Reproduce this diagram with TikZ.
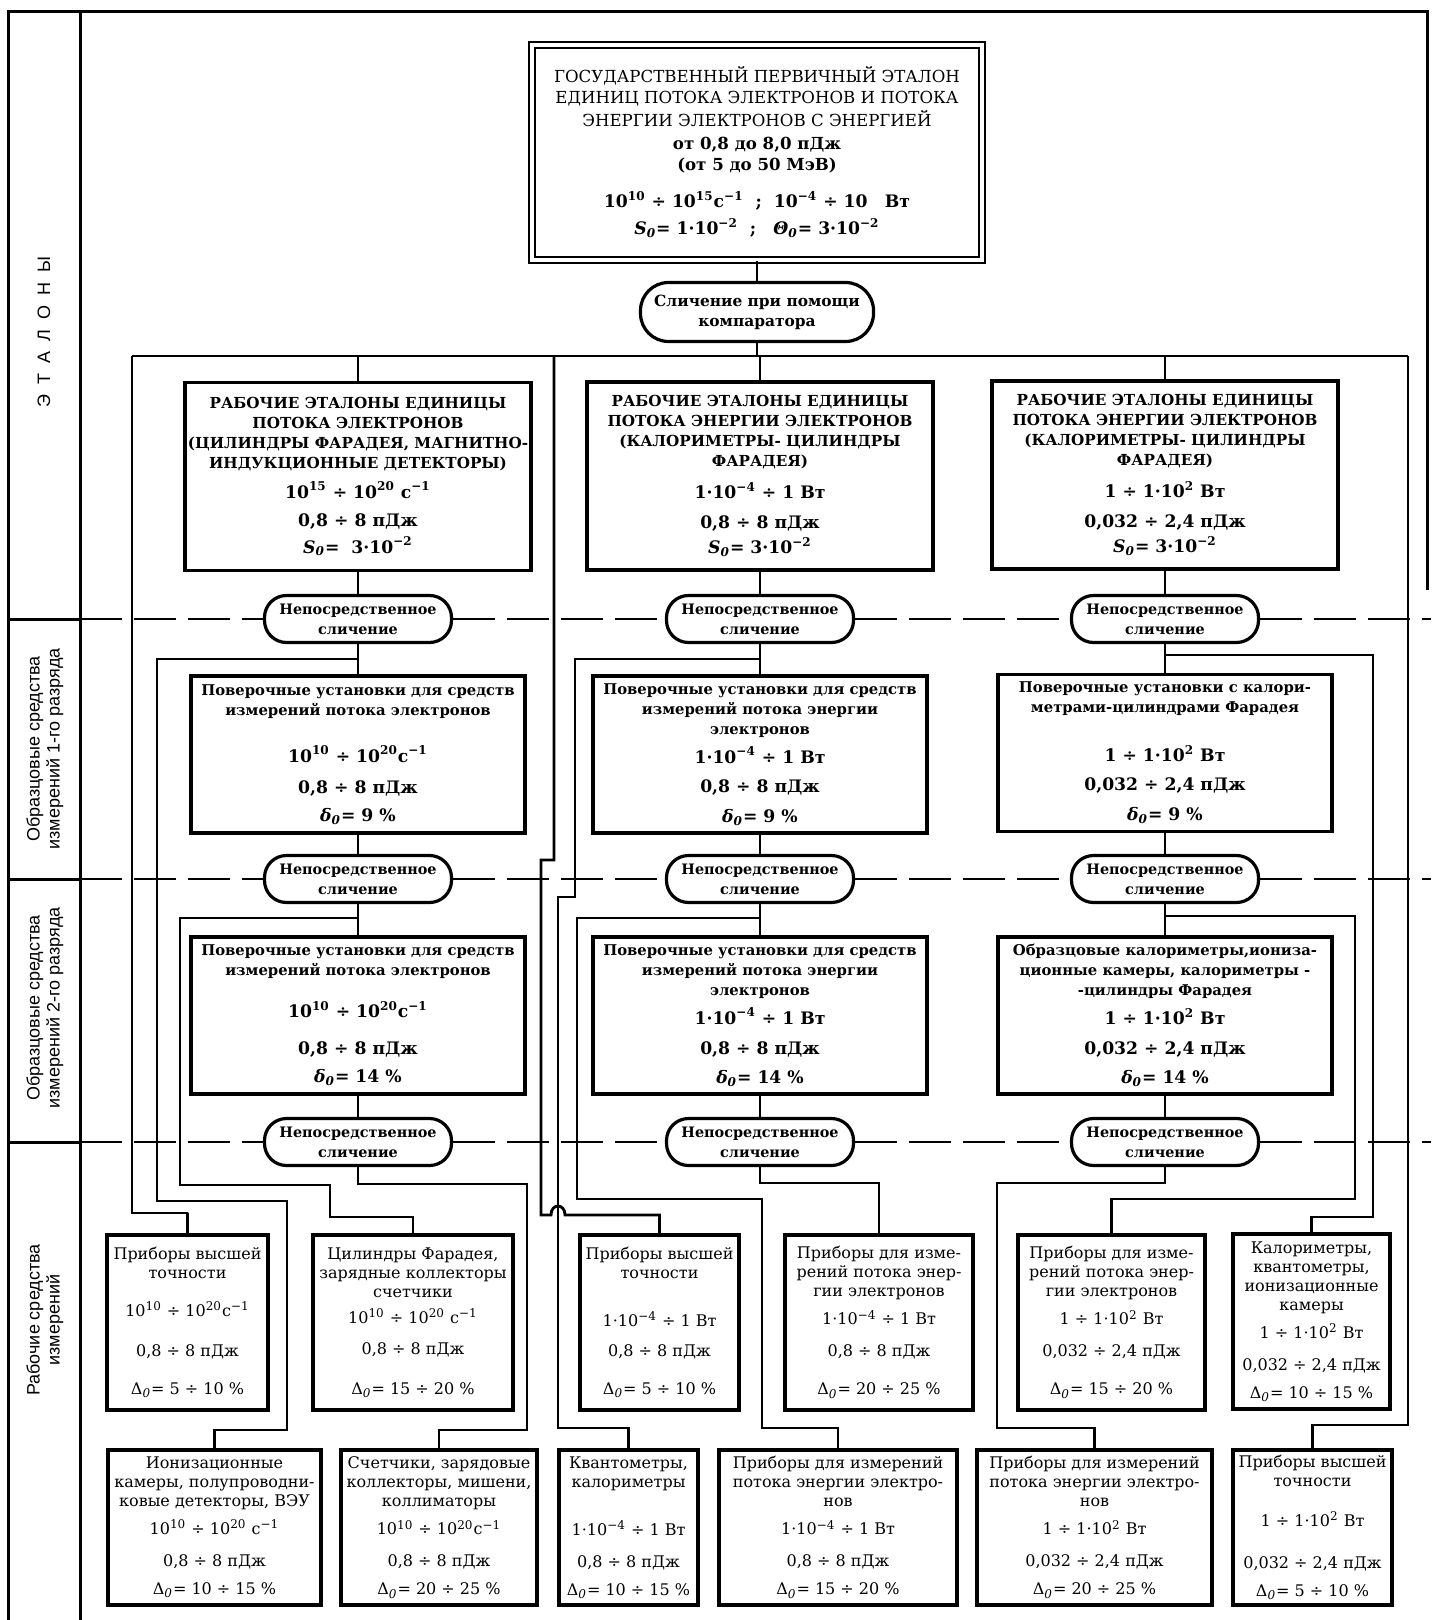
\documentclass[tikz,border=0pt]{standalone}
\usepackage{fontspec}
\setmainfont{DejaVu Serif}
\setsansfont{Liberation Sans}
\newcommand{\pw}[1]{\textsuperscript{#1}}
\newcommand{\dlo}{\textit{δ}\textsubscript{\textit{0}}}
\newcommand{\Dlo}{Δ\textsubscript{\textit{0}}}
\newcommand{\Sno}{\textit{S}\textsubscript{\textit{0}}}
\newcommand{\Tho}{\textit{Θ}\textsubscript{\textit{0}}}
\newcommand{\nfs}{\fontsize{8.6}{10}\selectfont}

\begin{document}
\begin{tikzpicture}[x=0.5pt,y=-0.5pt,
    frame/.style={line width=1.5pt},
    conn/.style={line width=1.4pt},
    rankline/.style={line width=1.1pt, dash pattern=on 21pt off 6pt},
    box/.style={draw, line width=1.8pt, fill=white, align=center, inner sep=1pt},
    gpebox/.style={box, double, line width=1.2pt, double distance=1.6pt,
      minimum width=225pt, minimum height=107.5pt, font=\fontsize{8.3}{10.5}\selectfont},
    etbox/.style={box, minimum width=173pt, minimum height=94pt, font=\bfseries\fontsize{7.6}{10}\selectfont},
    povbox/.style={box, minimum width=167pt, minimum height=78.5pt, font=\bfseries\fontsize{7.4}{10}\selectfont},
    wbox/.style={box, minimum height=87.5pt, font=\fontsize{8}{9.5}\selectfont},
    bbox/.style={box, minimum height=77.5pt, font=\fontsize{8}{9.5}\selectfont},
    cmpov/.style={draw, line width=1.6pt, fill=white, rounded corners=11pt, minimum width=93.5pt,
      minimum height=23.5pt, align=center, inner sep=1pt, font=\bfseries\fontsize{7.2}{10}\selectfont},
    sidelab/.style={rotate=90, align=center, font=\sffamily\fontsize{9}{10}\selectfont}
  ]
  \useasboundingbox (0,0) rectangle (1431,1620);

  %% frame and the left column
  \draw[frame] (8,1620) -- (8,12) -- (1427,12) -- (1427,590);
  \draw[frame] (80,12) -- (80,1620);
  \foreach \y in {619,879,1142}
    { \draw[frame] (8,\y) -- (80,\y); }
  \node[sidelab] (lab0) at (44,332) {Э\hspace{5pt}Т\hspace{5pt}А\hspace{5pt}Л\hspace{5pt}О\hspace{5pt}Н\hspace{5pt}Ы};
  \node[sidelab] (lab1) at (45,749) {Образцовые средства\\измерений 1-го разряда};
  \node[sidelab] (lab2) at (45,1008) {Образцовые средства\\измерений 2-го разряда};
  \node[sidelab] (lab3) at (45,1320) {Рабочие средства\\измерений};

  %% state primary standard
  \node[gpebox] (gpe) at (757,152.5) {ГОСУДАРСТВЕННЫЙ ПЕРВИЧНЫЙ ЭТАЛОН\\
    ЕДИНИЦ ПОТОКА ЭЛЕКТРОНОВ И ПОТОКА\\[1pt]
    ЭНЕРГИИ ЭЛЕКТРОНОВ С ЭНЕРГИЕЙ\\[1pt]
    \textbf{от 0,8 до 8,0 пДж}\\
    \textbf{(от 5 до 50 МэВ)}\\[8pt]
    \textbf{\nfs 10\pw{10} ÷ 10\pw{15}с\pw{−1}\ \ ;\ \ 10\pw{−4} ÷ 10\quad Вт}\\[3pt]
    \textbf{\nfs \Sno= 1·10\pw{−2}\ \ ;\quad \Tho= 3·10\pw{−2}}};
  \node[cmpov, minimum width=116.5pt, minimum height=29.5pt, rounded corners=14pt,
    font=\bfseries\fontsize{7.7}{10}\selectfont] (cmp) at (757,312) {Сличение при помощи\\компаратора};

  %% working standards
  \node[etbox] (E1) at (358,476.5) {РАБОЧИЕ ЭТАЛОНЫ ЕДИНИЦЫ\\ПОТОКА ЭЛЕКТРОНОВ\\
    (ЦИЛИНДРЫ ФАРАДЕЯ, МАГНИТНО-\\ИНДУКЦИОННЫЕ ДЕТЕКТОРЫ)\\[5pt]
    {\nfs 10\pw{15} ÷ 10\pw{20}\ с\pw{−1}}\\[4pt]{\nfs 0,8 ÷ 8 пДж}\\[3.5pt]{\nfs \Sno=\ \ 3·10\pw{−2}}};
  \node[etbox] (E2) at (760,476) {РАБОЧИЕ ЭТАЛОНЫ ЕДИНИЦЫ\\ПОТОКА ЭНЕРГИИ ЭЛЕКТРОНОВ\\
    (КАЛОРИМЕТРЫ- ЦИЛИНДРЫ\\ФАРАДЕЯ)\\[6pt]
    {\nfs 1·10\pw{−4} ÷ 1 Вт}\\[5pt]{\nfs 0,8 ÷ 8 пДж}\\[2.5pt]{\nfs \Sno= 3·10\pw{−2}}};
  \node[etbox] (E3) at (1165,475) {РАБОЧИЕ ЭТАЛОНЫ ЕДИНИЦЫ\\ПОТОКА ЭНЕРГИИ ЭЛЕКТРОНОВ\\
    (КАЛОРИМЕТРЫ- ЦИЛИНДРЫ\\ФАРАДЕЯ)\\[6pt]
    {\nfs 1 ÷ 1·10\pw{2} Вт}\\[5pt]{\nfs 0,032 ÷ 2,4 пДж}\\[2.5pt]{\nfs \Sno= 3·10\pw{−2}}};

  %% comparisons
  \foreach \r/\y in {1/619,2/879,3/1142}
    \foreach \c/\x in {a/358,b/760,c/1165}
      { \node[cmpov] (o\c\r) at (\x,\y) {Непосредственное\\сличение}; }

  %% 1st grade
  \node[povbox] (R1a) at (358,754.5) {Поверочные установки для средств\\измерений потока электронов\\[13.5pt]
    {\nfs 10\pw{10} ÷ 10\pw{20}с\pw{−1}}\\[5.5pt]{\nfs 0,8 ÷ 8 пДж}\\[4pt]{\nfs \dlo= 9 \%}};
  \node[povbox] (R1b) at (760,754.5) {Поверочные установки для средств\\измерений потока энергии\\электронов\\[4.5pt]
    {\nfs 1·10\pw{−4} ÷ 1 Вт}\\[4.5pt]{\nfs 0,8 ÷ 8 пДж}\\[5pt]{\nfs \dlo= 9 \%}};
  \node[povbox] (R1c) at (1165,753) {Поверочные установки с калори-\\метрами-цилиндрами Фарадея\\[14.5pt]
    {\nfs 1 ÷ 1·10\pw{2} Вт}\\[4.5pt]{\nfs 0,032 ÷ 2,4 пДж}\\[5pt]{\nfs \dlo= 9 \%}};

  %% 2nd grade
  \node[povbox] (R2a) at (358,1015.5) {Поверочные установки для средств\\измерений потока электронов\\[11pt]
    {\nfs 10\pw{10} ÷ 10\pw{20}с\pw{−1}}\\[8.5pt]{\nfs 0,8 ÷ 8 пДж}\\[4pt]{\nfs \dlo= 14 \%}};
  \node[povbox] (R2b) at (760,1015.5) {Поверочные установки для средств\\измерений потока энергии\\электронов\\[4.5pt]
    {\nfs 1·10\pw{−4} ÷ 1 Вт}\\[5pt]{\nfs 0,8 ÷ 8 пДж}\\[4.5pt]{\nfs \dlo= 14 \%}};
  \node[povbox] (R2c) at (1165,1015.5) {Образцовые калориметры,иониза-\\ционные камеры, калориметры -\\-цилиндры Фарадея\\[4.5pt]
    {\nfs 1 ÷ 1·10\pw{2} Вт}\\[5pt]{\nfs 0,032 ÷ 2,4 пДж}\\[4.5pt]{\nfs \dlo= 14 \%}};

  %% working instruments, upper row
  \node[wbox, minimum width=80.5pt] (W1) at (187.5,1322.5) {Приборы высшей\\точности\\[9.5pt]
    10\pw{10} ÷ 10\pw{20}с\pw{−1}\\[10.5pt]0,8 ÷ 8 пДж\\[9.5pt]\Dlo= 5 ÷ 10 \%};
  \node[wbox, minimum width=100pt] (W2) at (413,1322.5) {Цилиндры Фарадея,\\зарядные коллекторы\\счетчики\\[3.5pt]
    10\pw{10} ÷ 10\pw{20} с\pw{−1}\\[6pt]0,8 ÷ 8 пДж\\[10.5pt]\Dlo= 15 ÷ 20 \%};
  \node[wbox, minimum width=79.5pt] (W3) at (659.5,1322.5) {Приборы высшей\\точности\\[14.5pt]
    1·10\pw{−4} ÷ 1 Вт\\[5.5pt]0,8 ÷ 8 пДж\\[9.5pt]\Dlo= 5 ÷ 10 \%};
  \node[wbox, minimum width=94pt] (W4) at (879,1322.5) {Приборы для изме-\\рений потока энер-\\гии электронов\\[4.5pt]
    1·10\pw{−4} ÷ 1 Вт\\[6.5pt]0,8 ÷ 8 пДж\\[9.5pt]\Dlo= 20 ÷ 25 \%};
  \node[wbox, minimum width=93.5pt] (W5) at (1111.5,1322.5) {Приборы для изме-\\рений потока энер-\\гии электронов\\[4.5pt]
    1 ÷ 1·10\pw{2} Вт\\[6.5pt]0,032 ÷ 2,4 пДж\\[9.5pt]\Dlo= 15 ÷ 20 \%};
  \node[wbox, minimum width=78.5pt] (W6) at (1311.5,1321.5) {Калориметры,\\квантометры,\\ионизационные\\камеры\\[4.5pt]
    1 ÷ 1·10\pw{2} Вт\\[6.5pt]0,032 ÷ 2,4 пДж\\[4.5pt]\Dlo= 10 ÷ 15 \%};

  %% working instruments, lower row
  \node[bbox, minimum width=106.5pt] (B1) at (214.5,1527.5) {Ионизационные\\камеры, полупроводни-\\ковые детекторы, ВЭУ\\[4.5pt]
    10\pw{10} ÷ 10\pw{20} с\pw{−1}\\[6.5pt]0,8 ÷ 8 пДж\\[4.5pt]\Dlo= 10 ÷ 15 \%};
  \node[bbox, minimum width=98pt] (B2) at (439,1527.5) {Счетчики, зарядовые\\коллекторы, мишени,\\коллиматоры\\[4.5pt]
    10\pw{10} ÷ 10\pw{20}с\pw{−1}\\[6.5pt]0,8 ÷ 8 пДж\\[4.5pt]\Dlo= 20 ÷ 25 \%};
  \node[bbox, minimum width=69.5pt] (B3) at (628.5,1527.5) {Квантометры,\\калориметры\\[14.5pt]
    1·10\pw{−4} ÷ 1 Вт\\[6.5pt]0,8 ÷ 8 пДж\\[4.5pt]\Dlo= 10 ÷ 15 \%};
  \node[bbox, minimum width=119pt] (B4) at (838,1527.5) {Приборы для измерений\\потока энергии электро-\\нов\\[4.5pt]
    1·10\pw{−4} ÷ 1 Вт\\[6.5pt]0,8 ÷ 8 пДж\\[4.5pt]\Dlo= 15 ÷ 20 \%};
  \node[bbox, minimum width=117.5pt] (B5) at (1094.5,1527.5) {Приборы для измерений\\потока энергии электро-\\нов\\[4.5pt]
    1 ÷ 1·10\pw{2} Вт\\[6.5pt]0,032 ÷ 2,4 пДж\\[4.5pt]\Dlo= 20 ÷ 25 \%};
  \node[bbox, minimum width=79.5pt] (B6) at (1312.5,1527.5) {Приборы высшей\\точности\\[10.5pt]
    1 ÷ 1·10\pw{2} Вт\\[11.5pt]0,032 ÷ 2,4 пДж\\[4.5pt]\Dlo= 5 ÷ 10 \%};

  %% grade borders
  \foreach \r/\y in {1/619,2/879,3/1142}
    { \draw[rankline] (80,\y) -- (oa\r.west) (oa\r.east) -- (ob\r.west)
        (ob\r.east) -- (oc\r.west) (oc\r.east) -- (1431,\y); }

  %% bus under the comparator
  \coordinate (busL) at (132,356);
  \coordinate (busA) at (554,356);
  \coordinate (busR) at (1408,356);
  \draw[conn] (gpe.south) -- (cmp.north);
  \draw[conn] (cmp.south) -- (cmp.south |- busL);
  \draw[conn] (busL) -- (busR);
  \foreach \k in {1,2,3}
    { \draw[conn] (E\k.north) -- (E\k.north |- busL); }

  %% straight runs in each column
  \foreach \c/\k in {a/1,b/2,c/3}
    { \draw[conn] (E\k.south) -- (o\c1.north);
      \draw[conn] (o\c1.south) -- (R1\c.north);
      \draw[conn] (R1\c.south) -- (o\c2.north);
      \draw[conn] (o\c2.south) -- (R2\c.north);
      \draw[conn] (R2\c.south) -- (o\c3.north); }

  %% feeds to the working instruments
  \draw[conn] (busL) |- (188,1213) -| (W1.north);
  \draw[conn] (oa1.south |- 0,659) -| (157,1201) -| (287,1430) -| (B1.north);
  \draw[conn] (oa2.south |- 0,918) -| (180,1185) -| (330,1217) -| (W2.north);
  \draw[conn] (oa3.south) |- (527,1184) |- (B2.north |- 0,1430) -- (B2.north);
  \draw[conn] (busA) |- (541,860) -- (541,1215) -- (551,1215)
    .. controls (551,1203) and (565,1203) .. (565,1215) -| (W3.north);
  \draw[conn] (ob1.south |- 0,659) -| (575,897) -| (558,1428) -| (B3.north);
  \draw[conn] (ob2.south |- 0,918) -| (577,1199) -| (762,1428) -| (B4.north);
  \draw[conn] (ob3.south) |- (W4.north |- 0,1183) -- (W4.north);
  \draw[conn] (oc3.south) |- (997,1183) |- (B5.north |- 0,1428) -- (B5.north);
  \draw[conn] (oc2.south |- 0,916) -| (1355,1199) -| (W5.north);
  \draw[conn] (oc1.south |- 0,655) -| (1373,1217) -| (W6.north);
  \draw[conn] (busR) |- (B6.north |- 0,1425) -- (B6.north);
\end{tikzpicture}
\end{document}
